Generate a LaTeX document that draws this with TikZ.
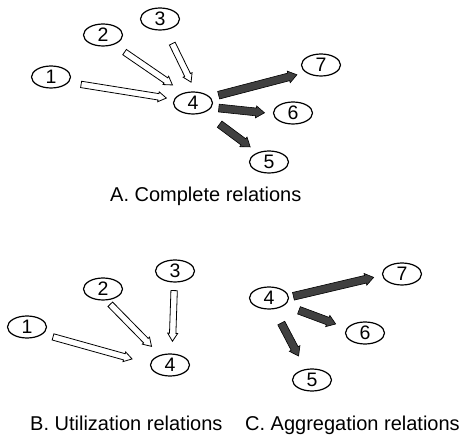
\documentclass[tikz,border=0pt]{standalone}
\usepackage{fontspec}
\setmainfont{Liberation Sans}
\usepackage{tikz}
\usetikzlibrary{calc}
\usetikzlibrary{shapes.geometric}
\tikzset{state/.style={ellipse, draw=black, line width=1.2pt, minimum width=39pt, minimum height=22pt, inner sep=0pt, font=\fontsize{19.5}{19.5}\selectfont}}
\tikzset{caption/.style={anchor=base west, inner sep=0pt, font=\fontsize{20}{24}\selectfont}}
\tikzset{blockpath/.style n args={5}{to path={let \p1=($(\tikztostart)!#1pt!(\tikztotarget)$), \p2=($(\tikztotarget)!#2pt!(\tikztostart)$), \p3=($(\p2)!#5pt!(\p1)$) in ($(\p1)!#3pt!90:(\p2)$) -- ($(\p3)!#3pt!90:(\p2)$) -- ($(\p3)!#4pt!90:(\p2)$) -- (\p2) -- ($(\p3)!#4pt!-90:(\p2)$) -- ($(\p3)!#3pt!-90:(\p2)$) -- ($(\p1)!#3pt!-90:(\p2)$) -- cycle}}}
\tikzset{utilarrow/.style 2 args={draw=black, line width=0.8pt, fill=white, blockpath={#1}{#2}{3.2}{5}{8}}}
\tikzset{aggrarrow/.style 2 args={draw=black, line width=0.6pt, fill=black!75, blockpath={#1}{#2}{3.9}{6}{8.5}}}

\begin{document}
\begin{tikzpicture}[x=1pt, y=-1pt]
    \useasboundingbox (0,0) rectangle (461,438);

    % A. complete relations
    \node [state](a1) at (51,77){1};
    \node [state](a2) at (103,35){2};
    \node [state](a3) at (160,19){3};
    \node [state](a4) at (193,103){4};
    \node [state](a5) at (269,162){5};
    \node [state](a6) at (293,113){6};
    \node [state](a7) at (321,65){7};
    \node [caption](capA) at (110,202){A. Complete relations};

    \draw[utilarrow={12.5}{7.7}] (a1.-17) to (a4.169);
    \draw[utilarrow={13}{13.7}] (a2.-42) to (a4.132);
    \draw[utilarrow={15}{10.4}] (a3.-63) to (a4.77);
    \draw[aggrarrow={8.4}{9}] (a4.18) to (a7.206);
    \draw[aggrarrow={7.2}{8.5}] (a4.-13) to (a6.182);
    \draw[aggrarrow={19.3}{9.2}] (a4.-41) to (a5.140);

    % B. utilization relations
    \node [state](b1) at (27,327){1};
    \node [state](b2) at (103,289){2};
    \node [state](b3) at (175,271){3};
    \node [state](b4) at (170,365){4};
    \node [caption](capB) at (30,431){B. Utilization relations};

    \draw[utilarrow={10.5}{18.6}] (b1.-24) to (b4.177);
    \draw[utilarrow={5.4}{12}] (b2.-73) to (b4.135);
    \draw[utilarrow={8}{12.2}] (b3.-93) to (b4.80);

    % C. aggregation relations
    \node [state](c4) at (269,298){4};
    \node [state](c5) at (312,380){5};
    \node [state](c6) at (365,333){6};
    \node [state](c7) at (402,274){7};
    \node [caption](capC) at (245,431){C. Aggregation relations};

    \draw[aggrarrow={4.5}{8.6}] (c4.2) to (c7.184);
    \draw[aggrarrow={15}{11.8}] (c4.-24) to (c6.165);
    \draw[aggrarrow={15.6}{14.7}] (c4.-66) to (c5.121);
\end{tikzpicture}
\end{document}
